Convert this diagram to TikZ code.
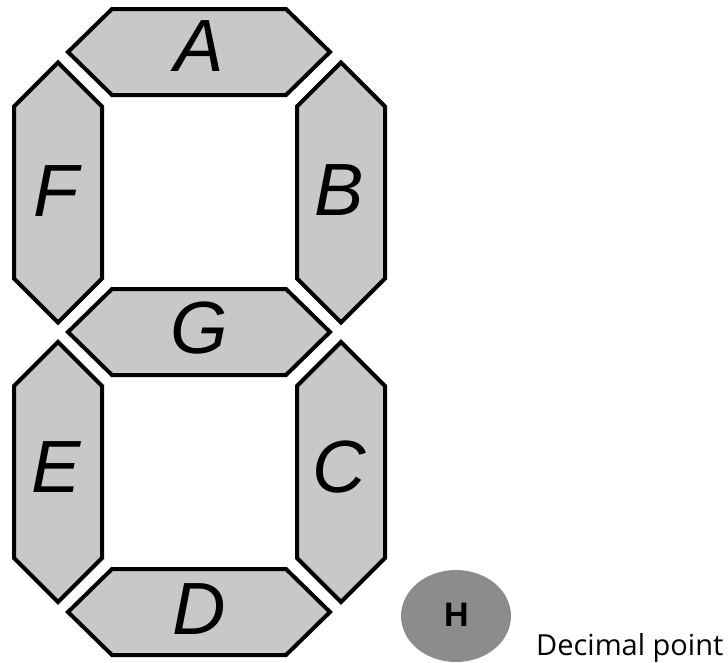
\documentclass[tikz,border=0pt]{standalone}
\usepackage{fontspec}
\setmainfont{Liberation Sans}
\newfontfamily\labelfont{Open Sans}
\definecolor{segcol}{RGB}{200,200,200}
\definecolor{dotcol}{RGB}{140,140,140}
\begin{document}
\begin{tikzpicture}[x=1pt,y=-1pt,
  segfill/.style={fill=segcol, draw=black, line width=4pt, line join=miter},
  seglabel/.style={anchor=base, inner sep=0pt, font=\fontsize{74}{74}\selectfont\itshape},
  hseg/.pic={\path[segfill] (-131,0) -- (-87,-43) -- (87,-43) -- (131,0) -- (87,43) -- (-87,43) -- cycle;},
  vseg/.pic={\path[segfill] (0,-130) -- (44,-86) -- (44,86) -- (0,130) -- (-44,86) -- (-44,-86) -- cycle;}
]
\useasboundingbox[fill=white] (0,0) rectangle (728,662);
% segments
\pic at (199,52) {hseg};
\pic at (199,332) {hseg};
\pic at (199,612) {hseg};
\pic at (58,192.5) {vseg};
\pic at (341,192.5) {vseg};
\pic at (58,472) {vseg};
\pic at (341,472) {vseg};
% labels
\node[seglabel] (A) at (199,71) {A};
\node[seglabel] (G) at (199,353) {G};
\node[seglabel] (D) at (199,634) {D};
\node[seglabel] (F) at (56,216) {F};
\node[seglabel] (B) at (339,215) {B};
\node[seglabel] (E) at (56,492) {E};
\node[seglabel] (C) at (339,492) {C};
% decimal point
\fill[dotcol] (456,616) ellipse [x radius=55, y radius=46];
\node[anchor=base, inner sep=0pt, font=\fontsize{34}{34}\selectfont\bfseries] (H) at (456.5,626) {H};
\node[anchor=base west, inner sep=0pt, font=\labelfont\fontsize{29}{29}\selectfont] (dp) at (536,655) {Decimal point};
\end{tikzpicture}
\end{document}
